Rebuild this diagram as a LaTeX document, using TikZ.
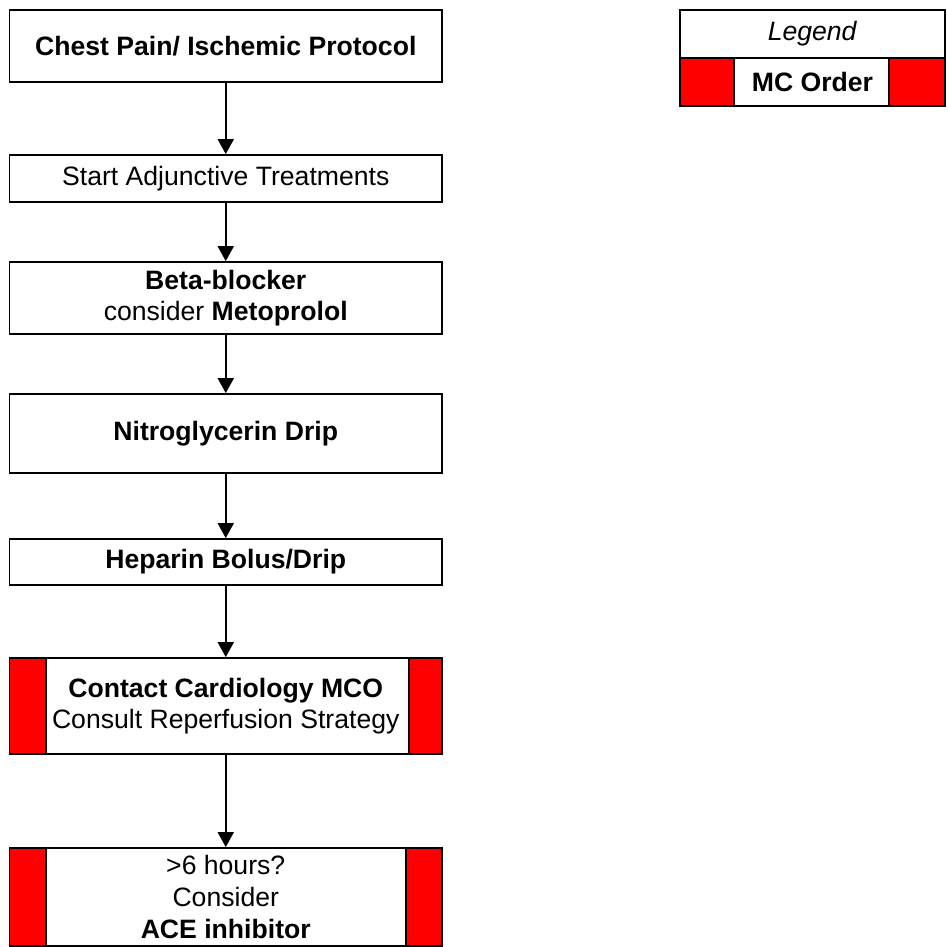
\documentclass[tikz,border=0pt]{standalone}
\usepackage{fontspec}
\setmainfont{Liberation Sans}
\usetikzlibrary{arrows.meta}
\begin{document}
\begin{tikzpicture}[x=1pt,y=-1pt,
  every node/.style={font=\fontsize{26.6}{31.7}\selectfont},
  box/.style={draw=black, line width=1.8pt, fill=white, rectangle, inner sep=0pt,
    align=center, minimum width=432.5pt},
  mcbars/.style 2 args={path picture={
    \fill[red] (path picture bounding box.north west) rectangle
      ([xshift=#1]path picture bounding box.south west);
    \fill[red] (path picture bounding box.north east) rectangle
      ([xshift=-#2]path picture bounding box.south east);
    \draw[line width=1.8pt] ([xshift=#1]path picture bounding box.north west) --
      ([xshift=#1]path picture bounding box.south west);
    \draw[line width=1.8pt] ([xshift=-#2]path picture bounding box.north east) --
      ([xshift=-#2]path picture bounding box.south east);
  }},
  arr/.style={line width=1.8pt, -{Triangle[width=16pt,length=15pt]}}
]
\useasboundingbox (0,0) rectangle (948,946);

% main protocol column
\node[box, minimum height=72pt] (b1) at (225.75,46) {\textbf{Chest Pain/ Ischemic Protocol}};
\node[box, minimum height=47pt] (b2) at (225.75,178.5) {Start Adjunctive Treatments};
\node[box, minimum height=72pt] (b3) at (225.75,298) {\textbf{Beta-blocker}\\consider \textbf{Metoprolol}};
\node[box, minimum height=79pt] (b4) at (225.75,433.5) {\textbf{Nitroglycerin Drip}};
\node[box, minimum height=46pt] (b5) at (225.75,562) {\textbf{Heparin Bolus/Drip}};
\node[box, minimum height=96pt, mcbars={36.5pt}{33pt}] (b6) at (225.75,706)
  {\textbf{Contact Cardiology MCO}\\Consult Reperfusion Strategy};
\node[box, minimum height=98pt, mcbars={36.5pt}{36pt}] (b7) at (225.75,897)
  {>6 hours?\\Consider\\\textbf{ACE inhibitor}};

\draw[arr] (b1) -- (b2);
\draw[arr] (b2) -- (b3);
\draw[arr] (b3) -- (b4);
\draw[arr] (b4) -- (b5);
\draw[arr] (b5) -- (b6);
\draw[arr] (b6) -- (b7);

% legend
\node[box, minimum width=265pt, minimum height=48pt] (lg1) at (812.5,34) {\textit{Legend}};
\node[box, minimum width=265pt, minimum height=48pt, mcbars={54pt}{56pt}] (lg2) at (812.5,82)
  {\textbf{MC Order}};
\end{tikzpicture}
\end{document}
